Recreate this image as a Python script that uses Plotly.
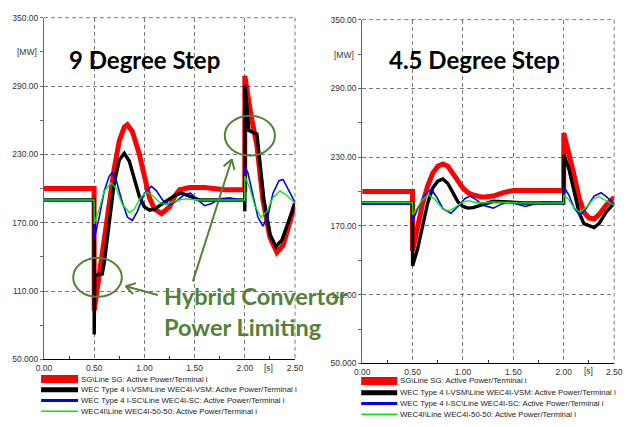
import math
import plotly.graph_objects as go

W, H = 630, 427

# ---------------- data: 9 degree step (left) ----------------
t9_sg = [0, 0.499, 0.5, 0.55, 0.6, 0.65, 0.7, 0.75, 0.8, 0.83, 0.88, 0.95, 1.0, 1.05, 1.1, 1.17,
         1.25, 1.3, 1.35, 1.45, 1.6, 1.8, 1.999, 2.0, 2.06, 2.12, 2.18, 2.25, 2.32, 2.38, 2.44, 2.5]
v9_sg = [200, 200, 93, 125, 158, 190, 218, 242, 254, 256, 250, 230, 210, 192, 182, 178,
         184, 193, 199, 201, 201, 199, 199, 299, 265, 238, 190, 157, 144, 150, 168, 187]

t9_vsm = [0, 0.499, 0.5, 0.505, 0.58, 0.6, 0.65, 0.7, 0.75, 0.8, 0.85, 0.9, 0.95, 1.0, 1.05, 1.1,
          1.2, 1.3, 1.37, 1.45, 1.55, 1.7, 1.999, 2.0, 2.002, 2.04, 2.12, 2.19, 2.25, 2.31, 2.37, 2.43, 2.5]
v9_vsm = [190, 190, 72, 124, 125, 135, 170, 205, 225, 231, 224, 208, 193, 184, 181, 182,
          188, 194, 196, 193, 190, 190, 190, 180, 291, 251, 248, 190, 160, 149, 155, 170, 187]

t9_sc = [0, 0.499, 0.5, 0.55, 0.6, 0.65, 0.68, 0.72, 0.78, 0.83, 0.88, 0.93, 1.0, 1.07, 1.12, 1.18,
         1.25, 1.32, 1.4, 1.46, 1.53, 1.6, 1.67, 1.75, 1.85, 1.95, 1.999, 2.0, 2.03, 2.08, 2.13, 2.18,
         2.23, 2.28, 2.34, 2.38, 2.43, 2.5]
v9_sc = [190, 190, 156, 175, 198, 211, 214, 207, 188, 175, 172, 180, 196, 202, 198, 190,
         186, 189, 195, 196, 190, 185, 187, 191, 192, 190, 190, 219, 214, 195, 175, 167,
         176, 196, 207, 208, 200, 188]

t9_hy = [0, 0.499, 0.5, 0.55, 0.6, 0.67, 0.72, 0.78, 0.85, 0.9, 0.96, 1.02, 1.08, 1.15, 1.22, 1.3,
         1.4, 1.55, 1.999, 2.0, 2.05, 2.1, 2.16, 2.22, 2.28, 2.35, 2.42, 2.5]
v9_hy = [190, 190, 169, 182, 198, 205, 200, 186, 179, 182, 192, 197, 194, 188, 186, 189,
         191, 190, 190, 211, 200, 185, 175, 180, 192, 198, 194, 187]

# ---------------- data: 4.5 degree step (right) ----------------
t45_sg = [0, 0.499, 0.5, 0.55, 0.6, 0.65, 0.7, 0.75, 0.8, 0.85, 0.9, 0.95, 1.0, 1.05, 1.1, 1.19,
          1.3, 1.4, 1.5, 1.7, 1.999, 2.0, 2.05, 2.1, 2.15, 2.2, 2.25, 2.3, 2.35, 2.42, 2.5]
v45_sg = [200, 200, 148, 170, 190, 205, 216, 222, 224, 222, 216, 209, 203, 199, 197, 195,
          196, 199, 201, 201, 201, 251, 235, 215, 195, 182, 177, 176, 180, 188, 195]

t45_vsm = [0, 0.499, 0.5, 0.55, 0.6, 0.65, 0.7, 0.75, 0.8, 0.85, 0.9, 0.95, 1.0, 1.05, 1.1, 1.2,
           1.3, 1.45, 1.6, 1.999, 2.002, 2.05, 2.1, 2.15, 2.2, 2.3, 2.35, 2.42, 2.5]
v45_vsm = [190, 190, 135, 150, 170, 190, 203, 209, 211, 207, 199, 191, 187, 185.5, 186, 189,
           191.5, 191, 190, 190, 232, 220, 200, 182, 172, 168.5, 172, 182, 190]

t45_sc = [0, 0.499, 0.5, 0.55, 0.62, 0.685, 0.74, 0.8, 0.88, 0.95, 1.02, 1.07, 1.13, 1.2, 1.3, 1.38,
          1.45, 1.55, 1.62, 1.7, 1.8, 1.999, 2.0, 2.05, 2.1, 2.16, 2.22, 2.3, 2.37, 2.43, 2.5]
v45_sc = [189, 189, 174, 185, 197, 202, 195, 185, 181, 187, 194, 196, 193, 188, 185.5, 189,
          191, 189, 187, 189, 191, 190, 204, 197, 186, 179, 185, 196, 199, 195, 189]

t45_hy = [0, 0.499, 0.5, 0.55, 0.6, 0.66, 0.72, 0.8, 0.85, 0.92, 0.98, 1.05, 1.15, 1.3, 1.6, 1.999,
          2.0, 2.05, 2.1, 2.16, 2.22, 2.3, 2.35, 2.42, 2.5]
v45_hy = [190.5, 190.5, 179.5, 186, 193, 197.5, 193, 185, 183, 186, 190, 192, 190, 191, 190, 190,
          197, 193, 186, 182, 186, 194, 195.5, 192, 188]

series_names = ["SG\\Line SG: Active Power/Terminal i",
                "WEC Type 4 I-VSM\\Line WEC4I-VSM: Active Power/Terminal i",
                "WEC Type 4 I-SC\\Line WEC4I-SC: Active Power/Terminal i",
                "WEC4I\\Line WEC4I-50-50: Active Power/Terminal i"]
series_colors = ["#ff0000", "#000000", "#0000ff", "#00ee00"]
plot_widths = [5, 3.4, 1.6, 1.3]
legend_widths = [8, 5, 3, 1.5]

y_ticks = [50, 110, 170, 230, 290, 350]
y_ticktext = ["50.000", "110.00", "170.00", "230.00", "290.00", "350.00"]
x_ticks = [0, 0.5, 1.0, 1.5, 2.0, 2.5]
x_ticktext = ["0.00", "0.50", "1.00", "1.50", "2.00", "2.50"]

panel_titles = ["9 Degree Step", "4.5 Degree Step"]
callout_lines = ["Hybrid Convertor", "Power Limiting"]


def px(x, y):
    return x / W, 1 - y / H


fig = go.Figure()

left = [(t9_sg, v9_sg), (t9_vsm, v9_vsm), (t9_sc, v9_sc), (t9_hy, v9_hy)]
right = [(t45_sg, v45_sg), (t45_vsm, v45_vsm), (t45_sc, v45_sc), (t45_hy, v45_hy)]
for i in range(4):
    t, v = left[i]
    fig.add_trace(go.Scatter(x=t, y=v, mode="lines", xaxis="x", yaxis="y",
                             line=dict(color=series_colors[i], width=plot_widths[i]),
                             showlegend=False, hoverinfo="skip"))
for i in range(4):
    t, v = right[i]
    fig.add_trace(go.Scatter(x=t, y=v, mode="lines", xaxis="x2", yaxis="y2",
                             line=dict(color=series_colors[i], width=plot_widths[i]),
                             showlegend=False, hoverinfo="skip"))

tickfont = dict(family="Liberation Sans, Arial, sans-serif", size=8.5, color="#333333")
grid = dict(showgrid=True, gridcolor="#7a7a7a", griddash="4px,3px", gridwidth=1)


def xaxis_cfg(dom, anchor):
    return dict(domain=dom, range=[0, 2.5], tickvals=x_ticks, ticktext=x_ticktext,
                tickfont=tickfont, showline=True, linecolor="#000000", linewidth=1,
                ticks="", zeroline=False, fixedrange=True, anchor=anchor,
                minor=dict(tickvals=[0.25, 0.75, 1.25, 1.75, 2.25], ticks="inside",
                           ticklen=3, tickcolor="#333333", showgrid=False),
                **grid)


def yaxis_cfg(dom, anchor):
    return dict(domain=dom, range=[50, 350], tickvals=y_ticks, ticktext=y_ticktext,
                tickfont=tickfont, showline=True, linecolor="#666666", linewidth=1,
                ticks="outside", ticklen=3, tickcolor="#666666", zeroline=False,
                anchor=anchor, fixedrange=True,
                minor=dict(tickvals=[80, 140, 200, 260, 320], ticks="outside",
                           ticklen=3, tickcolor="#666666", showgrid=False),
                **grid)


L = (37, 295, 13, 363)
R = (364, 623, 15, 367)

fig.update_layout(
    width=W, height=H, margin=dict(l=0, r=0, t=0, b=0),
    paper_bgcolor="white", plot_bgcolor="white", showlegend=False,
    xaxis=xaxis_cfg([L[0] / W, L[1] / W], "y"),
    yaxis=yaxis_cfg([1 - L[3] / H, 1 - L[2] / H], "x"),
    xaxis2=xaxis_cfg([R[0] / W, R[1] / W], "y2"),
    yaxis2=yaxis_cfg([1 - R[3] / H, 1 - R[2] / H], "x2"),
)

shapes = []
ann = []

# top / right dashed border lines
for (x0, x1, y0, y1) in (L, R):
    a, b = px(x0, y0)
    c, d = px(x1, y0)
    shapes.append(dict(type="line", xref="paper", yref="paper", x0=a, y0=b, x1=c, y1=d,
                       line=dict(color="#7a7a7a", width=1, dash="4px,3px")))
    a, b = px(x1, y0)
    c, d = px(x1, y1)
    shapes.append(dict(type="line", xref="paper", yref="paper", x0=a, y0=b, x1=c, y1=d,
                       line=dict(color="#7a7a7a", width=1, dash="4px,3px")))

# unit labels
unit_font = dict(family="Liberation Sans, Arial, sans-serif", size=8.5, color="#333333")
for (x, y, txt) in [(32, 48, "[MW]"), (358, 51, "[MW]")]:
    a, b = px(x, y)
    ann.append(dict(x=a, y=b, xref="paper", yref="paper", text=txt, showarrow=False,
                    xanchor="right", yanchor="middle", font=unit_font))
for (x, y, txt) in [(268, 372, "[s]"), (597, 375, "[s]")]:
    a, b = px(x, y)
    ann.append(dict(x=a, y=b, xref="paper", yref="paper", text=txt, showarrow=False,
                    xanchor="center", yanchor="middle", font=unit_font))

# titles
title_font = dict(family="Lato, Open Sans, sans-serif", size=24, color="#000000")
for (x, y), txt in zip([(140, 56), (479, 56)], panel_titles):
    a, b = px(x, y)
    ann.append(dict(x=a, y=b, xref="paper", yref="paper", text="<b>%s</b>" % txt,
                    showarrow=False, xanchor="center", yanchor="middle", font=title_font))

# callout
GREEN = "#548235"
call_font = dict(family="Lato, Open Sans, sans-serif", size=23.5, color=GREEN)
for (x, y), txt in zip([(158, 298), (158, 330)], callout_lines):
    a, b = px(x, y)
    ann.append(dict(x=a, y=b, xref="paper", yref="paper", text="<b>%s</b>" % txt,
                    showarrow=False, xanchor="left", yanchor="middle", font=call_font))

# ellipses (data coords)
shapes.append(dict(type="circle", xref="x", yref="y", x0=0.291, x1=0.775, y0=105, y1=139,
                   line=dict(color=GREEN, width=2)))
shapes.append(dict(type="circle", xref="x", yref="y", x0=1.80, x1=2.30, y0=229, y1=264,
                   line=dict(color=GREEN, width=2)))


# arrows with open chevron heads
def arrow(tail, head, arm=11, ang=32):
    tx, ty = tail
    hx, hy = head
    a, b = px(tx, ty)
    c, d = px(hx, hy)
    shapes.append(dict(type="line", xref="paper", yref="paper", x0=a, y0=b, x1=c, y1=d,
                       line=dict(color=GREEN, width=2)))
    th = math.atan2(ty - hy, tx - hx)
    for s in (-1, 1):
        ex = hx + arm * math.cos(th + s * math.radians(ang))
        ey = hy + arm * math.sin(th + s * math.radians(ang))
        e, f = px(ex, ey)
        shapes.append(dict(type="line", xref="paper", yref="paper", x0=c, y0=d, x1=e, y1=f,
                           line=dict(color=GREEN, width=2)))


arrow((154, 297), (121, 288))
arrow((190, 283), (230, 158))

# custom legends
leg_font = dict(family="Liberation Sans, Arial, sans-serif", size=7.8, color="#222222")
for (lx0, lx1, rows) in [(34, 72, [383, 394, 405, 416]), (363, 400, [385, 397, 408, 419])]:
    for i, yy in enumerate(rows):
        a, b = px(lx0, yy)
        c, d = px(lx1, yy)
        shapes.append(dict(type="line", xref="paper", yref="paper", x0=a, y0=b, x1=c, y1=d,
                           line=dict(color=series_colors[i], width=legend_widths[i])))
        e, f = px(lx1 + 1, yy)
        ann.append(dict(x=e, y=f, xref="paper", yref="paper", text=series_names[i],
                        showarrow=False, xanchor="left", yanchor="middle", font=leg_font))

fig.update_layout(shapes=shapes, annotations=ann)
fig.write_html("out.html", config={"displayModeBar": False, "staticPlot": True},
               post_script="document.body.style.margin='0';document.body.style.overflow='hidden';")
